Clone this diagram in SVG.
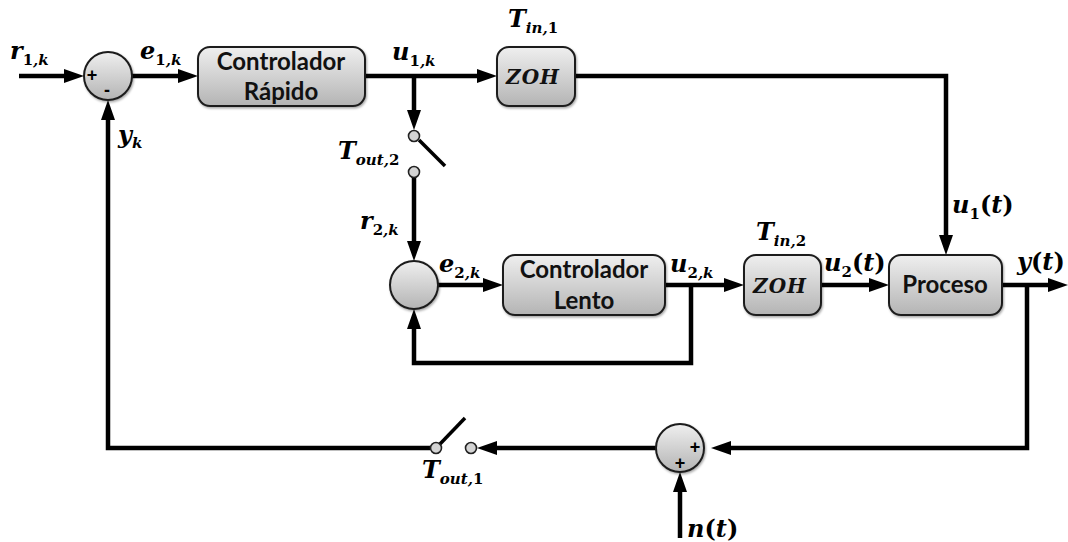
<svg xmlns="http://www.w3.org/2000/svg" width="1068" height="542" viewBox="0 0 1068 542">
<style>
.box{fill:url(#g);stroke:#1c1c1c;stroke-width:2}
.sw{fill:#d4d4d4;stroke:#222;stroke-width:1.6}
.w{fill:none;stroke:#000;stroke-width:3.5}
.a{fill:none;stroke:#000;stroke-width:4.5;stroke-linejoin:miter;marker-end:url(#ah)}
.t{font-family:Lato,"Liberation Sans",sans-serif;font-weight:700;font-size:24px;fill:#111;text-anchor:middle}
.m{font-family:"DejaVu Serif",serif;font-weight:700;font-style:italic;font-size:24px;fill:#000}
.s{font-size:15px}
.n{font-style:normal}
.z{font-family:"DejaVu Serif",serif;font-weight:700;font-style:italic;font-size:20px;letter-spacing:1px;fill:#111;text-anchor:middle}
.p{font-family:"Liberation Sans",sans-serif;font-weight:700;font-size:18px;fill:#000;text-anchor:middle}
</style>
<defs>
<linearGradient id="g" x1="0" y1="0" x2="0" y2="1"><stop offset="0" stop-color="#efefef"/><stop offset="1" stop-color="#b4b4b4"/></linearGradient>
<marker id="ah" viewBox="0 0 20 14" refX="10" refY="7" markerWidth="20" markerHeight="14" markerUnits="userSpaceOnUse" orient="auto"><path d="M0 0L20 7L0 14Z" fill="#000"/></marker>
<filter id="sh" x="-10%" y="-10%" width="125%" height="125%"><feDropShadow dx="1" dy="1.5" stdDeviation="1.2" flood-color="#000" flood-opacity=".35"/></filter>
</defs>
<g id="connectors">
<path class="a" d="M19 76H74"/>
<path class="a" d="M132 76H188"/>
<path class="a" d="M365 76H487"/>
<path class="a" d="M414 76V120"/>
<path class="a" d="M575 76H946V245"/>
<path class="a" d="M414 177V251"/>
<path class="a" d="M438 285H493"/>
<path class="a" d="M665 285H734"/>
<path class="a" d="M821 285H879"/>
<path class="a" d="M1002 285H1058"/>
<path class="a" d="M691 285V363H414V319"/>
<path class="a" d="M1027 285V448H721"/>
<path class="a" d="M656 448H487"/>
<path class="a" d="M680 538V482"/>
<path class="a" d="M430 448H108V110"/>
<path class="w" d="M419 140L445 166"/>
<path class="w" d="M440 444L465 418"/>
</g>
<g id="sum1"><circle class="box" cx="108" cy="76" r="24" filter="url(#sh)"/><text class="p" x="92" y="81">+</text><text class="p" x="107" y="96">-</text></g>
<g id="controlador-rapido"><rect class="box" x="198" y="47" width="167" height="59" rx="12" filter="url(#sh)"/><text class="t" x="281" y="70">Controlador</text><text class="t" x="281" y="100">Rápido</text></g>
<g id="zoh1"><rect class="box" x="497" y="47" width="78" height="59" rx="12" filter="url(#sh)"/><text class="z" x="533" y="84">ZOH</text></g>
<g id="switch2"><circle class="sw" cx="414" cy="136" r="5.5"/><circle class="sw" cx="414" cy="172" r="5.5"/></g>
<g id="sum2"><circle class="box" cx="414" cy="285" r="24" filter="url(#sh)"/></g>
<g id="controlador-lento"><rect class="box" x="503" y="255" width="162" height="60" rx="12" filter="url(#sh)"/><text class="t" x="584" y="278">Controlador</text><text class="t" x="584" y="309">Lento</text></g>
<g id="zoh2"><rect class="box" x="744" y="255" width="77" height="60" rx="12" filter="url(#sh)"/><text class="z" x="780" y="293">ZOH</text></g>
<g id="proceso"><rect class="box" x="889" y="255" width="113" height="60" rx="12" filter="url(#sh)"/><text class="t" x="945" y="293">Proceso</text></g>
<g id="sum3"><circle class="box" cx="680" cy="448" r="24" filter="url(#sh)"/><text class="p" x="695" y="453">+</text><text class="p" x="680" y="469">+</text></g>
<g id="switch1"><circle class="sw" cx="436" cy="448" r="5.5"/><circle class="sw" cx="471" cy="448" r="5.5"/></g>
<g id="labels">
<text class="m" x="10" y="59">r<tspan class="s n" dy="6">1</tspan><tspan class="s">,k</tspan></text>
<text class="m" x="140" y="59">e<tspan class="s n" dy="6">1</tspan><tspan class="s">,k</tspan></text>
<text class="m" x="118" y="143">y<tspan class="s" dy="5">k</tspan></text>
<text class="m" x="392" y="60">u<tspan class="s n" dy="6">1</tspan><tspan class="s">,k</tspan></text>
<text class="m" x="508" y="27">T<tspan class="s" dy="6">in,</tspan><tspan class="s n">1</tspan></text>
<text class="m" x="338" y="159">T<tspan class="s" dy="6">out,</tspan><tspan class="s n">2</tspan></text>
<text class="m" x="360" y="229">r<tspan class="s n" dy="6">2</tspan><tspan class="s">,k</tspan></text>
<text class="m" x="439" y="272">e<tspan class="s n" dy="6">2</tspan><tspan class="s">,k</tspan></text>
<text class="m" x="670" y="272">u<tspan class="s n" dy="6">2</tspan><tspan class="s">,k</tspan></text>
<text class="m" x="756" y="240">T<tspan class="s" dy="6">in,</tspan><tspan class="s n">2</tspan></text>
<text class="m" x="824" y="271">u<tspan class="s n" dy="6">2</tspan><tspan class="n" dy="-6">(</tspan>t<tspan class="n">)</tspan></text>
<text class="m" x="952" y="213">u<tspan class="s n" dy="6">1</tspan><tspan class="n" dy="-6">(</tspan>t<tspan class="n">)</tspan></text>
<text class="m" x="1017" y="270">y<tspan class="n">(</tspan>t<tspan class="n">)</tspan></text>
<text class="m" x="422" y="478">T<tspan class="s" dy="6">out,</tspan><tspan class="s n">1</tspan></text>
<text class="m" x="687" y="537">n<tspan class="n">(</tspan>t<tspan class="n">)</tspan></text>
</g>
</svg>
